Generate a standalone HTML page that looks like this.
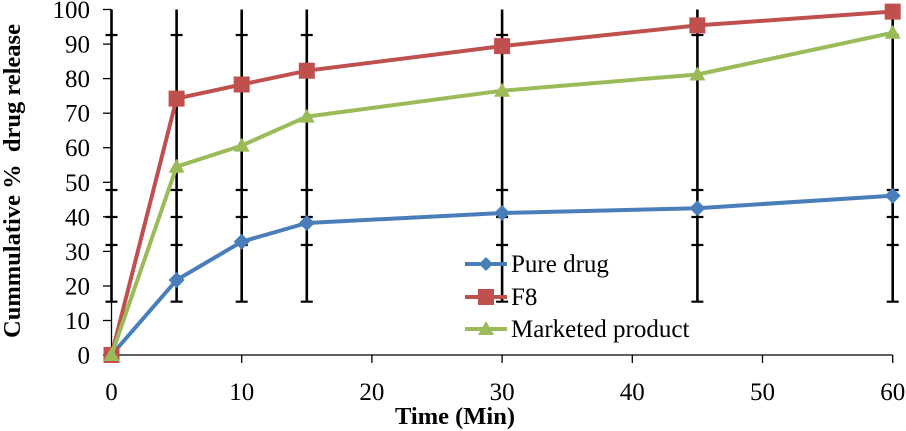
<!DOCTYPE html>
<html>
<head>
<meta charset="utf-8">
<style>
html,body{margin:0;padding:0;background:#fff;}
svg{display:block;}
text{font-family:"Liberation Serif","Times New Roman",serif;fill:#000;}
</style>
</head>
<body>
<svg width="906" height="431" viewBox="0 0 906 431" xmlns="http://www.w3.org/2000/svg">
  <rect width="906" height="431" fill="#fff"/>
  <!-- axes -->
  <g stroke="#000" stroke-width="1.3" fill="none">
    <line x1="111.5" y1="9.5" x2="111.5" y2="355"/>
    <line x1="111.5" y1="355" x2="892.7" y2="355"/>
    <!-- y ticks -->
    <line x1="103" y1="355" x2="111.5" y2="355"/>
    <line x1="103" y1="320.5" x2="111.5" y2="320.5"/>
    <line x1="103" y1="286" x2="111.5" y2="286"/>
    <line x1="103" y1="251.4" x2="111.5" y2="251.4"/>
    <line x1="103" y1="216.8" x2="111.5" y2="216.8"/>
    <line x1="103" y1="182.3" x2="111.5" y2="182.3"/>
    <line x1="103" y1="147.7" x2="111.5" y2="147.7"/>
    <line x1="103" y1="113.2" x2="111.5" y2="113.2"/>
    <line x1="103" y1="78.6" x2="111.5" y2="78.6"/>
    <line x1="103" y1="44.1" x2="111.5" y2="44.1"/>
    <line x1="103" y1="9.5" x2="111.5" y2="9.5"/>
    <!-- x ticks -->
    <line x1="111.5" y1="355" x2="111.5" y2="363"/>
    <line x1="241.7" y1="355" x2="241.7" y2="363"/>
    <line x1="371.9" y1="355" x2="371.9" y2="363"/>
    <line x1="502.1" y1="355" x2="502.1" y2="363"/>
    <line x1="632.3" y1="355" x2="632.3" y2="363"/>
    <line x1="762.5" y1="355" x2="762.5" y2="363"/>
    <line x1="892.7" y1="355" x2="892.7" y2="363"/>
  </g>
  <!-- y labels -->
  <g font-size="25" text-anchor="end">
    <text x="90" y="363.5">0</text>
    <text x="90" y="329">10</text>
    <text x="90" y="294.5">20</text>
    <text x="90" y="259.9">30</text>
    <text x="90" y="225.3">40</text>
    <text x="90" y="190.8">50</text>
    <text x="90" y="156.2">60</text>
    <text x="90" y="121.7">70</text>
    <text x="90" y="87.1">80</text>
    <text x="90" y="52.6">90</text>
    <text x="90" y="18">100</text>
  </g>
  <!-- x labels -->
  <g font-size="25" text-anchor="middle">
    <text x="111.5" y="400">0</text>
    <text x="241.7" y="400">10</text>
    <text x="371.9" y="400">20</text>
    <text x="502.1" y="400">30</text>
    <text x="632.3" y="400">40</text>
    <text x="762.5" y="400">50</text>
    <text x="892.7" y="400">60</text>
  </g>
  <!-- axis titles -->
  <text x="455" y="424" font-size="24.5" font-weight="bold" text-anchor="middle">Time (Min)</text>
  <text transform="translate(20,181) rotate(-90)" font-size="24.5" font-weight="bold" text-anchor="middle" style="white-space:pre" xml:space="preserve">Cummulative %  drug release</text>

  <!-- error bars -->
  <g stroke="#000" fill="none">
    <g stroke-width="2.6">
      <line x1="111.5" y1="9.5" x2="111.5" y2="301.7"/>
      <line x1="176.6" y1="9.5" x2="176.6" y2="301.7"/>
      <line x1="241.7" y1="9.5" x2="241.7" y2="301.7"/>
      <line x1="306.8" y1="9.5" x2="306.8" y2="301.7"/>
      <line x1="502.1" y1="9.5" x2="502.1" y2="301.7"/>
      <line x1="697.4" y1="9.5" x2="697.4" y2="301.7"/>
      <line x1="892.7" y1="9.5" x2="892.7" y2="301.7"/>
    </g>
    <g stroke-width="2.2">
      <path d="M105.5 35h12M105.5 190h12M105.5 217h12M105.5 245h12M105.5 301.7h12"/>
      <path d="M170.6 35h12M170.6 190h12M170.6 217h12M170.6 245h12M170.6 301.7h12"/>
      <path d="M235.7 35h12M235.7 190h12M235.7 217h12M235.7 245h12M235.7 301.7h12"/>
      <path d="M300.8 35h12M300.8 190h12M300.8 217h12M300.8 245h12M300.8 301.7h12"/>
      <path d="M496.1 35h12M496.1 190h12M496.1 217h12M496.1 245h12M496.1 301.7h12"/>
      <path d="M691.4 35h12M691.4 190h12M691.4 217h12M691.4 245h12M691.4 301.7h12"/>
      <path d="M886.7 35h12M886.7 190h12M886.7 217h12M886.7 245h12M886.7 301.7h12"/>
    </g>
  </g>

  <!-- Pure drug (blue) -->
  <polyline fill="none" stroke="#4A7EBB" stroke-width="4" stroke-linejoin="round"
    points="111.5,355 176.6,280 241.7,241.7 306.8,223 502.1,213 697.4,208.2 892.7,195.7"/>
  <g fill="#4A7EBB">
    <path d="M111.5 347l8 8-8 8-8-8z"/>
    <path d="M176.6 272l8 8-8 8-8-8z"/>
    <path d="M241.7 233.7l8 8-8 8-8-8z"/>
    <path d="M306.8 215l8 8-8 8-8-8z"/>
    <path d="M502.1 205l8 8-8 8-8-8z"/>
    <path d="M697.4 200.2l8 8-8 8-8-8z"/>
    <path d="M892.7 187.7l8 8-8 8-8-8z"/>
  </g>

  <!-- F8 (red) -->
  <polyline fill="none" stroke="#C0504D" stroke-width="4" stroke-linejoin="round"
    points="111.5,355 176.6,98.6 241.7,84.5 306.8,70.7 502.1,46.1 697.4,25.4 892.7,11.6"/>
  <g fill="#C0504D">
    <rect x="103.5" y="347" width="16" height="16"/>
    <rect x="168.6" y="90.6" width="16" height="16"/>
    <rect x="233.7" y="76.5" width="16" height="16"/>
    <rect x="298.8" y="62.7" width="16" height="16"/>
    <rect x="494.1" y="38.1" width="16" height="16"/>
    <rect x="689.4" y="17.4" width="16" height="16"/>
    <rect x="884.7" y="3.6" width="16" height="16"/>
  </g>

  <!-- Marketed product (green) -->
  <polyline fill="none" stroke="#9BBB59" stroke-width="4" stroke-linejoin="round"
    points="111.5,355 176.6,166.7 241.7,145.6 306.8,116.6 502.1,90.7 697.4,74.5 892.7,32.7"/>
  <g fill="#9BBB59">
    <path d="M111.5 347l8 14h-16z"/>
    <path d="M176.6 158.7l8 14h-16z"/>
    <path d="M241.7 137.6l8 14h-16z"/>
    <path d="M306.8 108.6l8 14h-16z"/>
    <path d="M502.1 82.7l8 14h-16z"/>
    <path d="M697.4 66.5l8 14h-16z"/>
    <path d="M892.7 24.7l8 14h-16z"/>
  </g>

  <!-- legend -->
  <line x1="465" y1="264" x2="507" y2="264" stroke="#4A7EBB" stroke-width="4"/>
  <path d="M486 257l7 7-7 7-7-7z" fill="#4A7EBB"/>
  <text x="511" y="272" font-size="25">Pure drug</text>

  <line x1="465" y1="297" x2="507" y2="297" stroke="#C0504D" stroke-width="4"/>
  <rect x="478" y="289" width="16" height="16" fill="#C0504D"/>
  <text x="511" y="305" font-size="25">F8</text>

  <line x1="465" y1="329" x2="507" y2="329" stroke="#9BBB59" stroke-width="4"/>
  <path d="M486 321l8 14h-16z" fill="#9BBB59"/>
  <text x="511" y="337" font-size="25">Marketed product</text>
</svg>
</body>
</html>
